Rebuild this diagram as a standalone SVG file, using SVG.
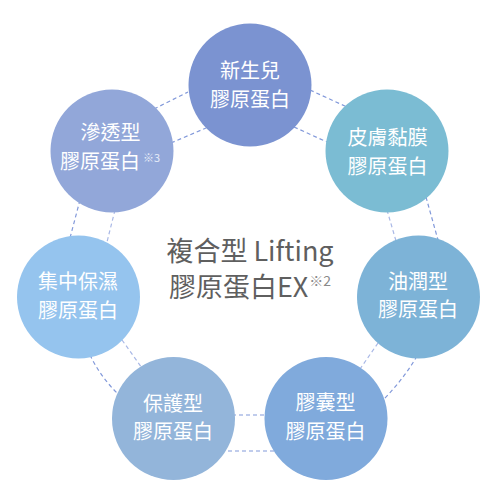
<svg xmlns="http://www.w3.org/2000/svg" width="500" height="500" viewBox="0 0 500 500">
<style>
.bg{fill:#ffffff}
.dash{fill:none;stroke:#8299da;stroke-width:1.2;stroke-dasharray:4 3}
.dash.lt{stroke:#a9b8e6}
.nt{font-family:"Noto Sans CJK TC","Noto Sans",sans-serif;font-size:20px;fill:#ffffff;text-anchor:middle}
.sup{font-size:11px;fill:#e6ecf8}
.ct{font-family:"Noto Sans CJK TC","Noto Sans",sans-serif;font-size:27px;fill:#5f5f5f;text-anchor:middle}
.csup{font-size:14px;fill:#8a8a8a}
</style>
<rect class="bg" x="0" y="0" width="500" height="500"/>
<g id="connectors">
<path class="dash" d="M154,109 L188,92"/>
<path class="dash" d="M171,143 L206,128"/>
<path class="dash" d="M310,90 L347,107"/>
<path class="dash" d="M294,127 L327,142"/>
<path class="dash" d="M426,197 L438,240"/>
<path class="dash lt" d="M387,210 L396,241"/>
<path class="dash" d="M80,200 L70,238"/>
<path class="dash lt" d="M115,210 L106,246"/>
<path class="dash" d="M417,356 Q403,380 383,400"/>
<path class="dash lt" d="M378,343 L360,369"/>
<path class="dash" d="M90,355 Q100,376 117,393"/>
<path class="dash lt" d="M122,340 L142,368"/>
<path class="dash" d="M228,451 L274,451"/>
<path class="dash" d="M232,415 L268,415"/>
</g>
<g id="n-xinsheng">
<circle cx="250" cy="85" r="61.5" fill="#7b93d1"/>
<text class="nt" x="250" y="77.5">新生兒</text>
<text class="nt" x="250" y="107">膠原蛋白</text>
</g>
<g id="n-pifu">
<circle cx="387" cy="151" r="61.5" fill="#7bbcd3"/>
<text class="nt" x="387.5" y="144.5">皮膚黏膜</text>
<text class="nt" x="387.5" y="173.5">膠原蛋白</text>
</g>
<g id="n-yourun">
<circle cx="418.5" cy="297" r="61.5" fill="#7db3d7"/>
<text class="nt" x="418" y="288.5">油潤型</text>
<text class="nt" x="418" y="316.5">膠原蛋白</text>
</g>
<g id="n-jiaonang">
<circle cx="326" cy="418.5" r="61.5" fill="#80aadc"/>
<text class="nt" x="325.5" y="410">膠囊型</text>
<text class="nt" x="325.5" y="439">膠原蛋白</text>
</g>
<g id="n-baohu">
<circle cx="173.5" cy="418.5" r="61.5" fill="#93b5da"/>
<text class="nt" x="173" y="410.5">保護型</text>
<text class="nt" x="173" y="438.5">膠原蛋白</text>
</g>
<g id="n-jizhong">
<circle cx="78.5" cy="297" r="61.5" fill="#95c4ee"/>
<text class="nt" x="78" y="288.5">集中保濕</text>
<text class="nt" x="78" y="317.5">膠原蛋白</text>
</g>
<g id="n-shentou">
<circle cx="112" cy="151" r="61.5" fill="#92a7d9"/>
<text class="nt" x="110.5" y="140">滲透型</text>
<text class="nt" x="110" y="168.5">膠原蛋白<tspan class="sup" dx="3" dy="-7">※3</tspan></text>
</g>
<g id="center">
<text class="ct" x="250" y="260.5">複合型 Lifting</text>
<text class="ct" x="250" y="297">膠原蛋白EX<tspan class="csup" dx="1" dy="-11">※2</tspan></text>
</g>
</svg>
